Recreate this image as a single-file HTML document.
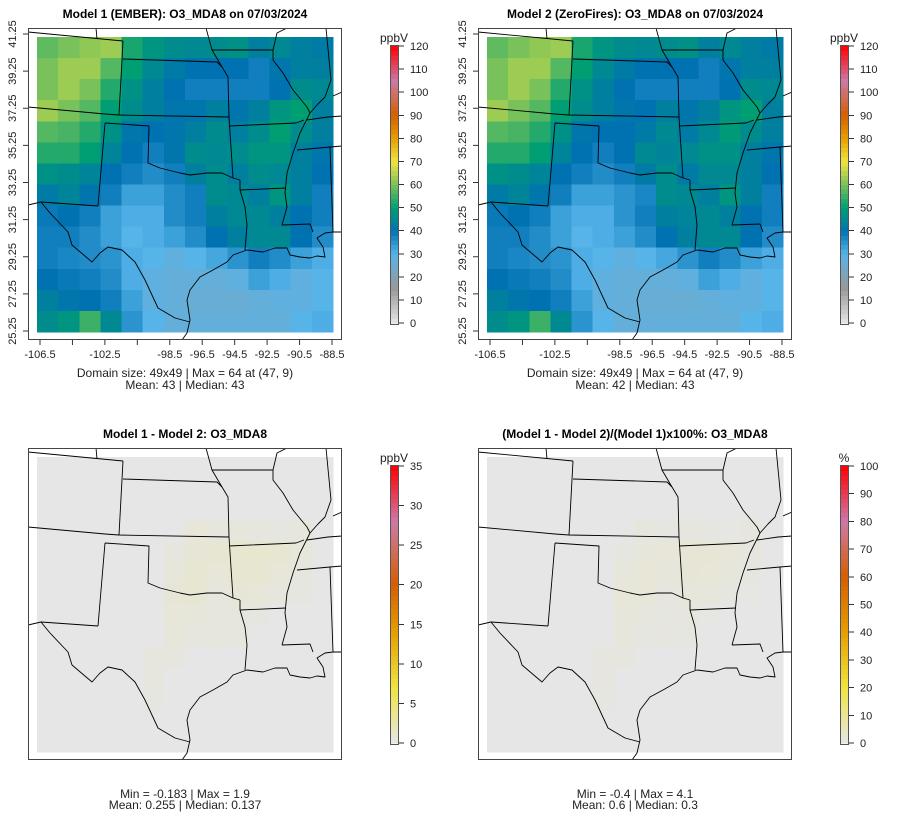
<!DOCTYPE html>
<html><head><meta charset="utf-8"><style>
body{margin:0;background:#fff;}
svg{display:block;font-family:"Liberation Sans",Arial,sans-serif;}
</style></head><body>
<svg id="chart" width="900" height="840" viewBox="0 0 900 840"></svg>
<script>
// ---- data: coarse 14x14 grids (rows north->south, cols west->east) ----
const lonTicks = [-106.5,-104.5,-102.5,-100.5,-98.5,-96.5,-94.5,-92.5,-90.5,-88.5];
const lonTickLabels = ["-106.5","","-102.5","","-98.5","-96.5","-94.5","-92.5","-90.5","-88.5"];
const latTicks = [41.25,39.25,37.25,35.25,33.25,31.25,29.25,27.25,25.25];
const m1Values = [
[58,60,62,63,52,48,46,45,46,47,43,45,43,42],
[60,63,63,57,50,45,42,40,40,40,38,41,43,43],
[60,63,60,53,47,43,40,38,38,38,38,40,46,45],
[63,60,57,50,46,43,41,41,43,41,43,48,50,43],
[57,56,53,47,41,40,41,43,46,43,46,50,46,43],
[53,53,50,44,40,38,41,46,45,46,48,48,43,41],
[47,46,44,40,38,36,38,43,46,43,46,45,43,40],
[42,44,41,38,33,33,36,38,46,45,43,48,43,38],
[39,40,38,33,31,31,36,38,43,45,45,43,40,38],
[38,38,36,33,30,31,33,36,40,43,45,45,40,36],
[38,37,36,35,31,30,28,30,32,35,38,36,33,31],
[40,39,38,36,31,28,27,27,27,28,33,31,28,30],
[43,41,40,38,33,28,27,26,26,26,27,28,28,30],
[46,48,55,45,35,30,27,27,27,27,27,27,30,31]];
const m2Values = [
[58,60,62,63,52,48,46,45,46,47,43,45,43,42],
[60,63,63,57,50,45,42,40,40,40,38,41,43,43],
[60,63,60,53,47,43,40,38,38,38,38,40,46,45],
[63,60,57,50,46,43,41,40,43,41,43,48,50,43],
[57,56,53,47,41,40,40,42,45,42,45,49,46,43],
[53,53,50,44,40,38,40,45,44,45,47,47,43,41],
[47,46,44,40,38,36,38,42,46,42,45,45,43,40],
[42,44,41,38,33,33,35,37,46,45,43,48,43,38],
[39,40,38,33,31,31,35,38,43,44,45,43,40,38],
[38,38,36,33,30,31,33,36,40,43,45,45,40,36],
[38,37,36,35,31,30,28,30,32,35,38,36,33,31],
[40,39,38,36,31,28,27,27,27,28,33,31,28,30],
[43,41,40,38,33,28,27,26,26,26,27,28,28,30],
[46,48,55,45,35,30,27,27,27,27,27,27,30,31]];
const diffValues = [
[0,0,0,0,0,0,0,0,0,0,0,0,0,0],
[0,0,0,0,0,0,0,0,0,0,0,0,0,0],
[0,0,0,0,0,0,0,0,0,0,0,0,0,0],
[0,0,0,0,0,0,0,0.6,0.3,0.5,0.3,0.2,0.4,0],
[0,0,0,0,0,0,0.3,0.7,0.8,0.9,1.0,0.8,0.5,0],
[0,0,0,0,0,0,0.5,0.9,0.6,0.9,0.9,0.6,0.3,0],
[0,0,0,0,0,0,0.7,0.8,0.4,0.7,0.6,0.3,0.2,0],
[0,0,0,0,0,0,0.6,0.5,0.3,0.4,0.2,0,0,0],
[0,0,0,0,0,0,0.5,0.3,0.4,0.3,0,0,0,0],
[0,0,0,0,0,0.3,0.3,0,0,0,0,0,0,0],
[0,0,0,0,0,0.3,0,0,0,0,0,0,0,0],
[0,0,0,0,0,0.2,0,0,0,0,0,0,0,0],
[0,0,0,0,0,0,0,0,0,0,0,0,0,0],
[0,0,0,0,0,0,0,0,0,0,0,0,0,0]];
const pctValues = [
[0,0,0,0,0,0,0,0,0,0,0,0,0,0],
[0,0,0,0,0,0,0,0,0,0,0,0,0,0],
[0,0,0,0,0,0,0,0,0,0,0,0,0,0],
[0,0,0,0,0,0,0,1.2,0.6,1,0.6,0.4,0.8,0],
[0,0,0,0,0,0,0.6,1.5,1.7,2,2.1,1.6,1,0],
[0,0,0,0,0,0,1.1,1.8,1.3,1.9,1.8,1.2,0.6,0],
[0,0,0,0,0,0,1.6,1.7,0.8,1.5,1.3,0.6,0.4,0],
[0,0,0,0,0,0,1.5,1.2,0.6,0.8,0.4,0,0,0],
[0,0,0,0,0,0,1.2,0.7,0.8,0.6,0,0,0,0],
[0,0,0,0,0,0.8,0.8,0,0,0,0,0,0,0],
[0,0,0,0,0,0.8,0,0,0,0,0,0,0,0],
[0,0,0,0,0,0.6,0,0,0,0,0,0,0,0],
[0,0,0,0,0,0,0,0,0,0,0,0,0,0],
[0,0,0,0,0,0,0,0,0,0,0,0,0,0]];
const ppbTicks = [0,10,20,30,40,50,60,70,80,90,100,110,120];
const diffTicks = [0,5,10,15,20,25,30,35];
const pctTicks = [0,10,20,30,40,50,60,70,80,90,100];

// ---- colour scales ----
const stopsPpb = [[0,"#e6e6e6"],[15,"#999999"],[30,"#56B4E9"],[40,"#0072B2"],[50,"#009E73"],[70,"#F0E442"],[80,"#E69F00"],[90,"#D55E00"],[105,"#CC79A7"],[120,"#FF0000"]];
const stopsDiff = [[0,"#e6e6e6"],[7,"#F0E442"],[14,"#E69F00"],[20,"#D55E00"],[28,"#CC79A7"],[35,"#FF0000"]];
const stopsPct = [[0,"#e6e6e6"],[20,"#F0E442"],[40,"#E69F00"],[60,"#D55E00"],[80,"#CC79A7"],[100,"#FF0000"]];
function hex(c){return [1,3,5].map(i=>parseInt(c.substr(i,2),16));}
function colorOf(stops,v){
  if(v<=stops[0][0])return stops[0][1];
  for(let i=1;i<stops.length;i++){
    if(v<=stops[i][0]){
      const t=(v-stops[i-1][0])/(stops[i][0]-stops[i-1][0]);
      const a=hex(stops[i-1][1]),b=hex(stops[i][1]);
      return "rgb("+a.map((x,k)=>Math.round(x+(b[k]-x)*t)).join(",")+")";
    }
  }
  return stops[stops.length-1][1];
}

const NS="http://www.w3.org/2000/svg";
const svg=document.getElementById("chart");
function el(tag,attrs,parent){const e=document.createElementNS(NS,tag);for(const k in attrs)e.setAttribute(k,attrs[k]);(parent||svg).appendChild(e);return e;}

const lines=[
 [[28,32],[123,41]],[[96,28],[97,39]],
 [[123,41],[119,115]],
 [[123,59],[217,62],[222,67],[228,77],[229,117]],
 [[28,107],[105,114],[119,115],[229,117]],
 [[105,123],[98,206]],
 [[105,123],[149,126],[148,163],[160,168],[180,173],[190,175],[207,173],[222,173],[233,178],[240,180]],
 [[229,117],[233,178]],
 [[240,180],[240,190],[245,207],[247,225],[245,250]],
 [[240,190],[286,188]],
 [[229,126],[296,123],[304,120]],
 [[206,28],[212,50],[222,67]],
 [[212,50],[273,50]],
 [[287,28],[277,33],[273,50],[273,60],[283,73],[293,90],[307,107],[310,113],[300,133],[293,153],[287,173],[285,193],[287,207],[282,225]],
 [[326,28],[331,80],[325,97],[318,104],[310,113]],
 [[307,120],[328,117],[342,116]],
 [[297,150],[330,147],[342,146]],
 [[330,147],[333,232]],
 [[282,225],[310,224],[313,232]],
 [[342,92],[333,96]],
 [[342,232],[333,232],[325,233],[317,238],[323,247],[325,257],[317,256],[310,258],[300,257],[290,255],[287,248],[275,248],[263,252],[247,250],[233,255],[227,262],[213,270],[200,277],[190,290],[187,300],[190,320],[187,333],[182,340]],
 [[28,205],[41,202],[98,206]],
 [[41,202],[50,213],[68,232],[72,245],[92,262],[100,253],[108,247],[122,250],[135,262],[145,280],[158,308],[175,318],[190,322]]
];

const panels=[
 {dx:0,dy:0,title:"Model 1 (EMBER): O3_MDA8 on 07/03/2024",data:m1Values,stops:stopsPpb,ticks:ppbTicks,max:120,unit:"ppbV",axes:true,cap:["Domain size: 49x49 | Max = 64 at (47, 9)","Mean: 43 |  Median: 43"],name:"model1"},
 {dx:450,dy:0,title:"Model 2 (ZeroFires): O3_MDA8 on 07/03/2024",data:m2Values,stops:stopsPpb,ticks:ppbTicks,max:120,unit:"ppbV",axes:true,cap:["Domain size: 49x49 | Max = 64 at (47, 9)","Mean: 42 |  Median: 43"],name:"model2"},
 {dx:0,dy:420,title:"Model 1 - Model 2: O3_MDA8",data:diffValues,stops:stopsDiff,ticks:diffTicks,max:35,unit:"ppbV",axes:false,cap:["Min = -0.183 | Max = 1.9","Mean: 0.255 |  Median: 0.137"],name:"difference"},
 {dx:450,dy:420,title:"(Model 1 - Model 2)/(Model 1)x100%: O3_MDA8",data:pctValues,stops:stopsPct,ticks:pctTicks,max:100,unit:"%",axes:false,cap:["Min = -0.4 | Max = 4.1","Mean: 0.6 |  Median: 0.3"],name:"percent-difference"}
];

panels.forEach((p,pi)=>{
  const g=el("g",{transform:`translate(${p.dx},${p.dy})`});
  
  
  const t=el("text",{x:185,y:p.axes?18:18,"text-anchor":"middle","font-size":"12","font-weight":"bold",fill:"#000"},g);
  t.textContent=p.title;
  
  
  const x0=37,y0=37,w=296,h=295;
  const rows=p.data.length,cols=p.data[0].length;
  const cw=w/cols,ch=h/rows;
  const hm=el("g",{"shape-rendering":"crispEdges"},g);
  
  
  p.data.forEach((row,r)=>row.forEach((v,c)=>{
    const cell=el("rect",{x:(x0+c*cw).toFixed(2),y:(y0+r*ch).toFixed(2),width:(cw+0.4).toFixed(2),height:(ch+0.4).toFixed(2),fill:colorOf(p.stops,v)},hm);
    
    
  }));
  const cid="clip"+pi;
  const cp=el("clipPath",{id:cid},g);el("rect",{x:28,y:28,width:314,height:312},cp);
  const bg=el("g",{"clip-path":`url(#${cid})`,fill:"none",stroke:"#000","stroke-width":"0.9","stroke-linejoin":"round"},g);
  
  
  lines.forEach(l=>{
    const pl=el("polyline",{points:l.map(q=>q.join(",")).join(" ")},bg);
    
    
  });
  const box=el("rect",{x:28.5,y:28.5,width:313,height:311,fill:"none",stroke:"#444","stroke-width":"1"},g);
  
  
  if(p.axes){
    const lonX=v=>40+(v+106.5)*(292/18);
    const latY=v=>331-(v-25.25)*(297/16);
    const ax=el("g",{stroke:"#333","stroke-width":"1"},g);
    
    
    lonTicks.forEach((v,i)=>{
      const x=lonX(v);
      el("line",{x1:x,y1:340,x2:x,y2:345},ax);
      if(lonTickLabels[i]){
        const tl=el("text",{x:x,y:358,"text-anchor":"middle","font-size":"11",fill:"#222",stroke:"none"},g);
        tl.textContent=lonTickLabels[i];
        
        
      }
    });
    latTicks.forEach(v=>{
      const y=latY(v);
      el("line",{x1:23,y1:y,x2:28,y2:y},ax);
      const tl=el("text",{x:16,y:y,"text-anchor":"middle","font-size":"11",fill:"#222",transform:`rotate(-90 16 ${y})`},g);
      tl.textContent=v.toFixed(2);
      
      
    });
  }
  const capY=p.axes?[377,389]:[378,389];
  p.cap.forEach((c,i)=>{
    const ct=el("text",{x:185,y:capY[i],"text-anchor":"middle","font-size":"12",fill:"#222"},g);
    ct.textContent=c;
    
    
  });
  const cbTop=45, cbBot=325, cbX=390, cbW=9;
  const cbY=v=>cbBot-2-(v/p.max)*(cbBot-2-(cbTop+1));
  const cb=el("g",{"shape-rendering":"crispEdges"},g);
  
  
  const nSeg=60;
  for(let i=0;i<nSeg;i++){
    const v0=p.max*i/nSeg,v1=p.max*(i+1)/nSeg;
    el("rect",{x:cbX,y:cbY(v1),width:cbW,height:cbY(v0)-cbY(v1)+0.5,fill:colorOf(p.stops,(v0+v1)/2)},cb);
  }
  el("rect",{x:cbX+0.5,y:cbTop+0.5,width:cbW-1,height:cbBot-cbTop-1,fill:"none",stroke:"#555","stroke-width":"1"},cb);
  p.ticks.forEach(v=>{
    const y=cbY(v);
    el("line",{x1:cbX+cbW,y1:y,x2:cbX+cbW+5,y2:y,stroke:"#333"},cb);
    const tl=el("text",{x:cbX+cbW+11,y:y+4,"font-size":"11",fill:"#222"},g);
    tl.textContent=v;
    
    
  });
  const ut=el("text",{x:cbX+4,y:cbTop-3,"text-anchor":"middle","font-size":"12",fill:"#222"},g);
  ut.textContent=p.unit;
  
  
});
</script>
</body></html>
